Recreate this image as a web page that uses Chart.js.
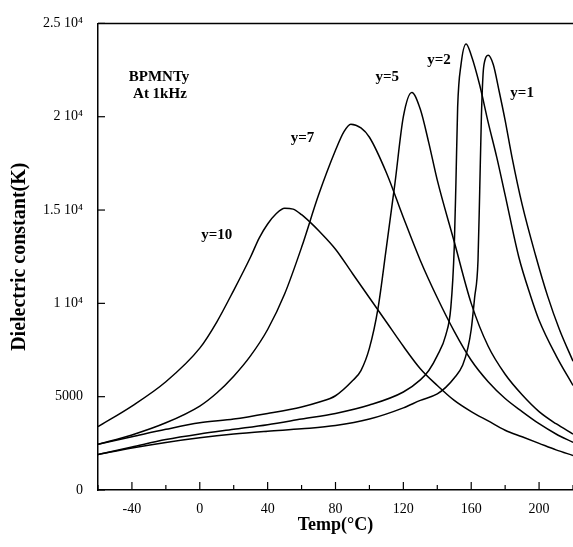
<!DOCTYPE html>
<html>
<head>
<meta charset="utf-8">
<script src="https://cdn.jsdelivr.net/npm/chart.js@4"></script>
<style>
  html, body { margin: 0; padding: 0; background: #fff; }
  #wrap { width: 573px; height: 547px; }
</style>
</head>
<body>
<div id="wrap"><canvas id="myChart" width="573" height="547"></canvas></div>
<script>

// temperatures (°C) and dielectric constant
const temp1 = [-60,-40,-20,0,20,40,60,80,100,120,130,140,145,150,155,158,160,162,164,165,166,167,168,170,173,176.5,180,184,190,198,205,212,220];
const diel1 = [1900,2250,2550,2800,3000,3150,3280,3450,3800,4400,4800,5150,5500,6000,6700,7600,8600,10300,12300,16000,20000,22300,23000,23300,22800,21350,19800,17850,15300,12550,10400,8600,6900];

const temp2 = [-60,-40,-20,0,20,40,60,80,100,120,130,135,140,145,148,150,151,152,154,157,160,165,170,175,180,188,195,200,210,220];
const diel2 = [1900,2300,2700,3000,3250,3500,3800,4100,4550,5250,5900,6400,7200,8300,9800,13000,16500,20500,22800,23900,23300,21700,19700,17850,15800,12500,10400,9100,7200,5600];

const temp5 = [-60,-40,-20,0,20,40,60,70,80,90,95,100,105,110,115,120,125,130,135,140,150,160,170,180,190,200,210,220];
const diel5 = [2450,2850,3250,3600,3800,4100,4450,4700,5050,5850,6400,7600,9700,13000,16400,20000,21300,20400,18600,16600,13300,10000,7700,6200,5100,4200,3550,3000];

const temp7 = [-60,-40,-20,0,10,20,30,40,50,60,70,80,85,89,95,100,110,120,130,140,150,160,170,180,190,200,210,220];
const diel7 = [2450,2950,3600,4500,5200,6100,7200,8600,10500,13000,15800,18200,19200,19600,19400,18900,17000,14600,12300,10300,8500,6950,5800,4900,4200,3550,3000,2550];

const temp10 = [-60,-40,-20,0,10,20,30,35,40,45,50,55,60,65,70,80,90,100,110,120,130,140,150,160,170,180,190,200,210,220];
const diel10 = [3400,4500,5800,7600,9000,10700,12500,13500,14250,14800,15100,15050,14750,14350,13900,12900,11600,10300,9000,7700,6500,5600,4800,4200,3700,3200,2850,2500,2150,1850];

const yTickLabels = {0: '0', 5000: '5000', 10000: '1 10\u2074', 15000: '1.5 10\u2074', 20000: '2 10\u2074', 25000: '2.5 10\u2074'};

// text written inside the plot, anchored in data units
const noteText = ['BPMNTy', 'At 1kHz', 'y=10', 'y=7', 'y=5', 'y=2', 'y=1'];
const noteTemp = [-24, -23.5, 10, 60.5, 110.5, 141, 190];
const noteDiel = [22140, 21190, 13660, 18850, 22140, 23040, 21240];

function pts (xs, ys) {
  return xs.map((x, i) => ({x: x, y: ys[i]}));
}

function curve (label, xs, ys) {
  return {
    label: label,
    data: pts(xs, ys),
    borderColor: '#000',
    borderWidth: 1.5,
    pointRadius: 0,
    fill: false,
    cubicInterpolationMode: 'monotone'
  };
}

const serif = "'Liberation Serif', 'Times New Roman', serif";

// inward tick marks, top frame line and the in-plot notes
const decorations = {
  id: 'decorations',
  afterDraw (chart) {
    const ctx = chart.ctx;
    const area = chart.chartArea;
    const xs = chart.scales.x;
    const ys = chart.scales.y;
    ctx.save();
    ctx.strokeStyle = '#000';
    ctx.lineWidth = 1.5;
    ctx.beginPath();
    ctx.moveTo(area.left, area.top);
    ctx.lineTo(area.right, area.top);
    ctx.stroke();

    ctx.lineWidth = 1.2;
    xs.ticks.forEach(t => {
      const px = xs.getPixelForValue(t.value);
      const len = (t.value % 40 === 0) ? 8 : 5;
      ctx.beginPath();
      ctx.moveTo(px, area.bottom);
      ctx.lineTo(px, area.bottom - len);
      ctx.stroke();
    });
    ys.ticks.forEach(t => {
      const py = ys.getPixelForValue(t.value);
      ctx.beginPath();
      ctx.moveTo(area.left, py);
      ctx.lineTo(area.left + 7, py);
      ctx.stroke();
    });

    ctx.fillStyle = '#000';
    ctx.font = 'bold 15px ' + serif;
    ctx.textAlign = 'center';
    ctx.textBaseline = 'middle';
    noteText.forEach((s, i) => {
      ctx.fillText(s, xs.getPixelForValue(noteTemp[i]), ys.getPixelForValue(noteDiel[i]));
    });
    ctx.restore();
  }
};

const ctx = document.getElementById('myChart');

const myChart = new Chart(ctx, {
  type: 'line',
  data: {
    datasets: [
      curve('y=1', temp1, diel1),
      curve('y=2', temp2, diel2),
      curve('y=5', temp5, diel5),
      curve('y=7', temp7, diel7),
      curve('y=10', temp10, diel10)
    ]
  },
  options: {
    responsive: false,
    animation: false,
    layout: { padding: { top: 18, right: 0, left: 0, bottom: 0 } },
    plugins: {
      legend: false,
      tooltip: { enabled: false }
    },
    scales: {
      x: {
        type: 'linear',
        min: -60,
        max: 220,
        afterFit: s => { s.height = 57; s.paddingRight = 0; s.paddingLeft = 0; },
        grid: { display: false, drawTicks: false },
        border: { display: true, color: '#000', width: 1.5 },
        ticks: {
          stepSize: 20,
          autoSkip: false,
          maxRotation: 0,
          padding: 11,
          color: '#000',
          font: { family: serif, size: 14 },
          callback: v => (v % 40 === 0 ? String(v) : '')
        },
        title: {
          display: true,
          text: 'Temp(\u00B0C)',
          color: '#000',
          font: { family: serif, size: 18, weight: 'bold' },
          padding: { top: 0, bottom: 11 }
        }
      },
      y: {
        min: 0,
        max: 25000,
        afterFit: s => { s.width = 98; },
        grid: { display: false, drawTicks: false },
        border: { display: true, color: '#000', width: 1.5 },
        ticks: {
          stepSize: 5000,
          padding: 15,
          color: '#000',
          font: { family: serif, size: 14 },
          callback: v => yTickLabels[v]
        },
        title: {
          display: true,
          text: 'Dielectric constant(K)',
          color: '#000',
          font: { family: serif, size: 20, weight: 'bold' },
          padding: { top: 8, bottom: 0 }
        }
      }
    }
  },
  plugins: [decorations]
});
</script>
</body>
</html>
